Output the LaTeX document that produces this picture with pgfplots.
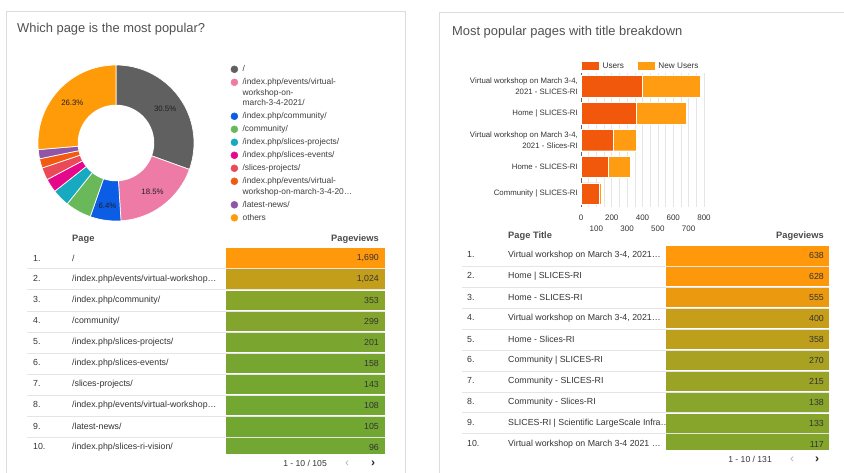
\documentclass[border=0pt]{standalone}
\usepackage{fontspec}
\setmainfont{Liberation Sans}
\usepackage{pgfplots}
\pgfplotsset{compat=1.18}

\definecolor{cBorder}{HTML}{DCDCDC}
\definecolor{cTitle}{HTML}{505050}
\definecolor{cTxt}{HTML}{333333}
\definecolor{cLeg}{HTML}{3C3C3C}
\definecolor{cHead}{HTML}{4A4A4A}
\definecolor{cGrid}{HTML}{E5E5E5}
\definecolor{cAxis}{HTML}{666666}
\definecolor{cGray}{HTML}{606060}
\definecolor{cPink}{HTML}{EE7BA5}
\definecolor{cBlue}{HTML}{0B5DE6}
\definecolor{cGreen}{HTML}{69B95B}
\definecolor{cTeal}{HTML}{16A9BF}
\definecolor{cMag}{HTML}{E6088B}
\definecolor{cRed}{HTML}{EA4A57}
\definecolor{cOrRed}{HTML}{F25A10}
\definecolor{cPurple}{HTML}{8E55A8}
\definecolor{cOrange}{HTML}{FF9A08}
\definecolor{cUsers}{HTML}{F1580C}
\definecolor{cNew}{HTML}{FF9C12}
\definecolor{cHi}{HTML}{FF980A}
\definecolor{cLo}{HTML}{68A834}

\newcommand\fs[2]{\fontsize{#1bp}{#2bp}\selectfont}
\newcommand\sA{\rule[-6.5bp]{0pt}{13bp}}
\newcommand\sB{\rule[-4bp]{0pt}{10.5bp}}
\newcommand\rkL[1]{\makebox[39bp][l]{#1}}
\newcommand\rkR[1]{\makebox[41bp][l]{#1}}

\pgfplotsset{
  dot/.style={legend image code/.code={\fill[#1] (3.5bp,2.4bp) circle (3.5bp);}},
  swatch/.style={legend image code/.code={\fill[#1] (0bp,-0.9bp) rectangle (16bp,6.1bp);}},
}

% donut slice: lower angle, upper angle, colour
\newcommand\slice[3]{\addplot[fill=#3, draw=white, line width=0.7bp, forget plot, samples=60, domain=#1:#2] ({cos(x)},{sin(x)}) -- (axis cs:0,0) -- cycle;}

% table cell: width, row, value, max
\newcommand\cell[4]{%
  \pgfmathsetmacro\cellp{#3/#4*100}%
  \edef\celltmp{\noexpand\addplot[xbar, bar shift=0pt, bar width=0.94, draw=none, fill=cHi!\cellp!cLo, every node near coord/.append style={anchor=east}] coordinates {(#1,#2) [#3]};}%
  \celltmp}

\begin{document}
\begin{tikzpicture}
\path[use as bounding box] (0,0) rectangle (844bp,473bp);

% panels
\draw[cBorder, line width=0.8bp] (6bp,-3bp) -- (6bp,462bp) -- (405bp,462bp) -- (405bp,-3bp);
\draw[cBorder, line width=0.8bp] (848bp,461bp) -- (439bp,461bp) -- (439bp,-3bp);

% titles
\node[anchor=base west, inner sep=0pt, font=\fs{12.9}{15}, text=cTitle] at (17bp,440.5bp) {Which page is the most popular?};
\node[anchor=base west, inner sep=0pt, font=\fs{12.9}{15}, text=cTitle] at (452bp,437.7bp) {Most popular pages with title breakdown};

% ---------- donut ----------
% pageviews: 1690 1024 353 299 201 158 143 108 105, others 1460 (total 5541)
\pgfmathsetmacro\cA{1690}
\pgfmathsetmacro\cB{\cA+1024}
\pgfmathsetmacro\cC{\cB+353}
\pgfmathsetmacro\cD{\cC+299}
\pgfmathsetmacro\cE{\cD+201}
\pgfmathsetmacro\cF{\cE+158}
\pgfmathsetmacro\cG{\cF+143}
\pgfmathsetmacro\cH{\cG+108}
\pgfmathsetmacro\cI{\cH+105}
\pgfmathsetmacro\T{\cI+1460}
\pgfmathsetmacro\aA{90-\cA/\T*360}
\pgfmathsetmacro\aB{90-\cB/\T*360}
\pgfmathsetmacro\aC{90-\cC/\T*360}
\pgfmathsetmacro\aD{90-\cD/\T*360}
\pgfmathsetmacro\aE{90-\cE/\T*360}
\pgfmathsetmacro\aF{90-\cF/\T*360}
\pgfmathsetmacro\aG{90-\cG/\T*360}
\pgfmathsetmacro\aH{90-\cH/\T*360}
\pgfmathsetmacro\aI{90-\cI/\T*360}

\begin{axis}[at={(116bp,330bp)}, anchor=center, scale only axis,
  width=156bp, height=156bp, xmin=-1, xmax=1, ymin=-1, ymax=1,
  hide axis, clip=false,
  legend style={at={(1.234,1)}, anchor=north west, draw=none, fill=none,
    inner sep=0pt, row sep=0pt, column sep=4.5bp, font=\fs{8.4}{10}, text=cLeg,
    nodes={inner sep=0pt, text depth=, text height=}, cells={anchor=base west}},
]
\slice{\aA}{90}{cGray}
\slice{\aB}{\aA}{cPink}
\slice{\aC}{\aB}{cBlue}
\slice{\aD}{\aC}{cGreen}
\slice{\aE}{\aD}{cTeal}
\slice{\aF}{\aE}{cMag}
\slice{\aG}{\aF}{cRed}
\slice{\aH}{\aG}{cOrRed}
\slice{\aI}{\aH}{cPurple}
\slice{-270}{\aI}{cOrange}
\addplot[fill=white, draw=none, domain=0:360, samples=100, forget plot] ({0.49*cos(x)},{0.49*sin(x)});

\node[font=\fs{7.8}{9}, text=black!88] at (axis cs:{0.77*cos(35.1)},{0.77*sin(35.1)}) {30.5\%};
\node[font=\fs{7.8}{9}, text=black!88] at (axis cs:{0.78*cos(-53.1)},{0.78*sin(-53.1)}) {18.5\%};
\node[font=\fs{7.8}{9}, text=black!88] at (axis cs:{0.81*cos(-97.8)},{0.81*sin(-97.8)}) {6.4\%};
\node[font=\fs{7.8}{9}, text=black!88] at (axis cs:{0.76*cos(137.4)},{0.76*sin(137.4)}) {26.3\%};

\addlegendimage{dot=cGray}\addlegendentry{\sA/}
\addlegendimage{dot=cPink}\addlegendentry{\sB/index.php/events/virtual-}
\addlegendimage{empty legend}\addlegendentry{\sB workshop-on-}
\addlegendimage{empty legend}\addlegendentry{\sA march-3-4-2021/}
\addlegendimage{dot=cBlue}\addlegendentry{\sA/index.php/community/}
\addlegendimage{dot=cGreen}\addlegendentry{\sA/community/}
\addlegendimage{dot=cTeal}\addlegendentry{\sA/index.php/slices-projects/}
\addlegendimage{dot=cMag}\addlegendentry{\sA/index.php/slices-events/}
\addlegendimage{dot=cRed}\addlegendentry{\sA/slices-projects/}
\addlegendimage{dot=cOrRed}\addlegendentry{\sB/index.php/events/virtual-}
\addlegendimage{empty legend}\addlegendentry{\sA workshop-on-march-3-4-20…}
\addlegendimage{dot=cPurple}\addlegendentry{\sA/latest-news/}
\addlegendimage{dot=cOrange}\addlegendentry{\sA others}
\end{axis}

% ---------- stacked bars ----------
\begin{axis}[at={(581bp,266bp)}, anchor=south west, scale only axis,
  width=123bp, height=134bp,
  xbar stacked, bar width=0.8,
  xmin=0, xmax=800, ymin=-0.5, ymax=4.5,
  ytick={0,...,4},
  yticklabels={{Community | SLICES-RI},{Home - SLICES-RI},{Virtual workshop on March 3-4,\\2021 - Slices-RI},{Home | SLICES-RI},{Virtual workshop on March 3-4,\\2021 - SLICES-RI}},
  yticklabel style={align=right, font=\fs{7.8}{11}, text=cTxt, inner sep=0pt, xshift=-3bp},
  xtick={0,200,...,800}, extra x ticks={100,300,500,700},
  extra x tick style={xticklabel style={yshift=-11bp}},
  xticklabel style={font=\fs{8}{9.6}, text=cTxt, yshift=-4.5bp},
  minor xtick={50,150,...,750}, xmajorgrids, xminorgrids,
  major grid style={cGrid, line width=0.6bp}, minor grid style={cGrid, line width=0.6bp},
  tick style={draw=none},
  axis lines*=left, x axis line style={draw=none}, y axis line style={draw=cAxis, line width=0.8bp},
  legend columns=2,
  legend style={at={(0,1)}, anchor=south west, xshift=1bp, yshift=3.1bp, draw=none, fill=none,
    inner sep=0pt, row sep=0pt, column sep=4bp, font=\fs{8.2}{10}, text=cTxt,
    nodes={inner sep=0pt, text depth=, text height=}, cells={anchor=base west},
    /tikz/every even column/.append style={column sep=14bp}},
  /pgf/number format/assume math mode=true,
]
\addplot[fill=cUsers, draw=white, line width=0.4bp, swatch=cUsers] coordinates {(118,0) (177,1) (210,2) (358,3) (398,4)};
\addplot[fill=cNew, draw=white, line width=0.4bp, swatch=cNew] coordinates {(11,0) (142,1) (148,2) (324,3) (378,4)};
\legend{Users, New Users}
\end{axis}

% ---------- left table ----------
\node[anchor=base west, inner sep=0pt, font=\fs{9.3}{11}\bfseries, text=cHead] at (72bp,231.3bp) {Page};
\node[anchor=base east, inner sep=0pt, font=\fs{9.3}{11}\bfseries, text=cHead] at (379bp,231.3bp) {Pageviews};
\begin{axis}[at={(27bp,225.2bp)}, anchor=north west, scale only axis,
  width=358bp, height=205.9bp,
  xmin=-199, xmax=159, ymin=0.5, ymax=10.286, y dir=reverse,
  axis line style={draw=none}, tick style={draw=none},
  xtick=\empty, ytick={1,...,10},
  yticklabels={\rkL{1.}/,\rkL{2.}/index.php/events/virtual-workshop…,\rkL{3.}/index.php/community/,\rkL{4.}/community/,\rkL{5.}/index.php/slices-projects/,\rkL{6.}/index.php/slices-events/,\rkL{7.}/slices-projects/,\rkL{8.}/index.php/events/virtual-workshop…,\rkL{9.}/latest-news/,\rkL{10.}/index.php/slices-ri-vision/},
  yticklabel style={anchor=west, xshift=6bp, inner sep=0pt, font=\fs{8.8}{10}, text=cTxt},
  minor ytick={1.5,2.5,...,9.5}, yminorgrids, minor grid style={cGrid, line width=0.8bp},
  point meta=explicit, nodes near coords,
  every node near coord/.append style={xshift=-6bp, inner sep=0pt, font=\fs{8.8}{10}, text=cTxt},
  /pgf/number format/1000 sep={,},
  /pgf/number format/assume math mode=true,
]
\cell{159}{1}{1690}{1690}
\cell{159}{2}{1024}{1690}
\cell{159}{3}{353}{1690}
\cell{159}{4}{299}{1690}
\cell{159}{5}{201}{1690}
\cell{159}{6}{158}{1690}
\cell{159}{7}{143}{1690}
\cell{159}{8}{108}{1690}
\cell{159}{9}{105}{1690}
\cell{159}{10}{96}{1690}
\end{axis}
\node[anchor=base east, inner sep=0pt, font=\fs{8.6}{10}, text=cTxt] at (327bp,7bp) {1 - 10 / 105};
\node[anchor=base, inner sep=0pt, font=\fs{12}{12}, text=black!30] at (347bp,7bp) {‹};
\node[anchor=base, inner sep=0pt, font=\fs{12}{12}\bfseries, text=black!85] at (373bp,7bp) {›};

% ---------- right table ----------
\node[anchor=base west, inner sep=0pt, font=\fs{9.3}{11}\bfseries, text=cHead] at (508bp,234.6bp) {Page Title};
\node[anchor=base east, inner sep=0pt, font=\fs{9.3}{11}\bfseries, text=cHead] at (824bp,234.6bp) {Pageviews};
\begin{axis}[at={(462bp,227.8bp)}, anchor=north west, scale only axis,
  width=367bp, height=204.1bp,
  xmin=-204, xmax=163, ymin=0.5, ymax=10.237, y dir=reverse,
  axis line style={draw=none}, tick style={draw=none},
  xtick=\empty, ytick={1,...,10},
  yticklabels={{\rkR{1.}Virtual workshop on March 3-4, 2021…},\rkR{2.}Home | SLICES-RI,\rkR{3.}Home - SLICES-RI,{\rkR{4.}Virtual workshop on March 3-4, 2021…},\rkR{5.}Home - Slices-RI,\rkR{6.}Community | SLICES-RI,\rkR{7.}Community - SLICES-RI,\rkR{8.}Community - Slices-RI,\rkR{9.}SLICES-RI | Scientific LargeScale Infra…,\rkR{10.}Virtual workshop on March 3-4 2021 …},
  yticklabel style={anchor=west, xshift=5bp, inner sep=0pt, font=\fs{8.8}{10}, text=cTxt},
  minor ytick={1.5,2.5,...,9.5}, yminorgrids, minor grid style={cGrid, line width=0.8bp},
  point meta=explicit, nodes near coords,
  every node near coord/.append style={xshift=-5bp, inner sep=0pt, font=\fs{8.8}{10}, text=cTxt},
  /pgf/number format/1000 sep={,},
  /pgf/number format/assume math mode=true,
]
\cell{163}{1}{638}{638}
\cell{163}{2}{628}{638}
\cell{163}{3}{555}{638}
\cell{163}{4}{400}{638}
\cell{163}{5}{358}{638}
\cell{163}{6}{270}{638}
\cell{163}{7}{215}{638}
\cell{163}{8}{138}{638}
\cell{163}{9}{133}{638}
\cell{163}{10}{117}{638}
\end{axis}
\node[anchor=base east, inner sep=0pt, font=\fs{8.6}{10}, text=cTxt] at (772bp,10.7bp) {1 - 10 / 131};
\node[anchor=base, inner sep=0pt, font=\fs{12}{12}, text=black!30] at (792bp,10.7bp) {‹};
\node[anchor=base, inner sep=0pt, font=\fs{12}{12}\bfseries, text=black!85] at (817bp,10.7bp) {›};
\end{tikzpicture}
\end{document}
